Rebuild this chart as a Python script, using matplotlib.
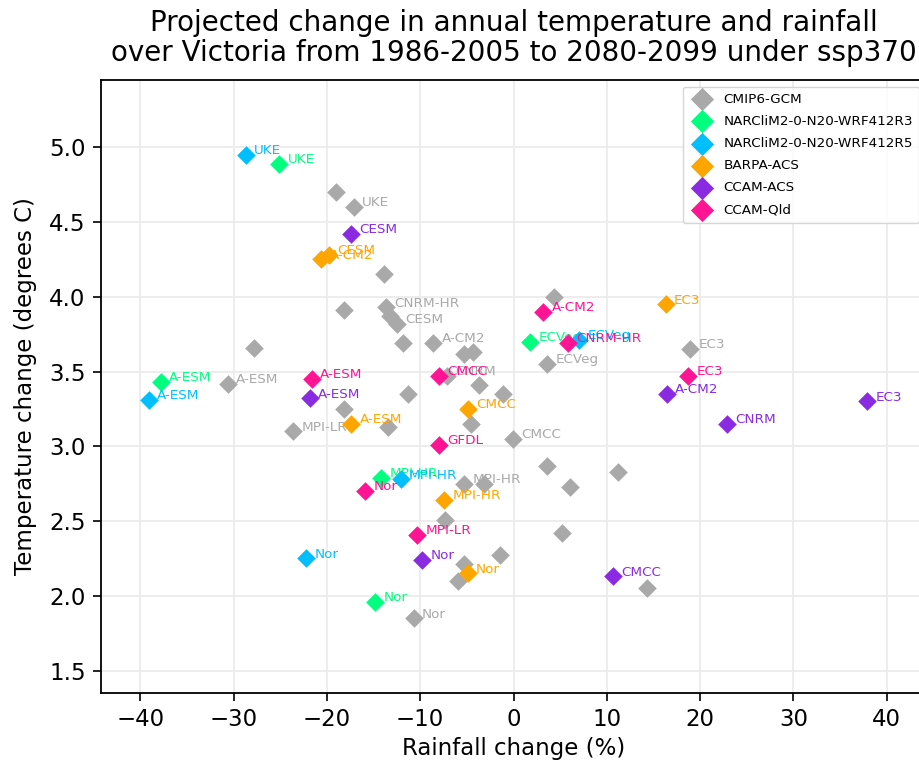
import matplotlib.pyplot as plt

# --- data (rainfall change %, temperature change degC) ---
gcm_x = [-19.0, -17.1, -13.9, -18.2, -13.7, -13.2, -12.5, -11.8, -8.6, -27.8,
         -30.6, -5.3, -4.3, -3.7, -1.1, -11.3, -4.6, -0.1, 3.6, 4.3,
         -13.5, -18.2, -23.6, 18.9, -5.3, -3.2, -7.3, -1.4, -5.3, -5.9,
         -10.7, 3.6, 11.2, 6.1, 5.2, 14.3, -7.1]
gcm_y = [4.70, 4.60, 4.15, 3.91, 3.93, 3.87, 3.82, 3.69, 3.69, 3.66,
         3.42, 3.62, 3.63, 3.41, 3.35, 3.35, 3.15, 3.05, 3.55, 4.00,
         3.13, 3.25, 3.10, 3.65, 2.75, 2.75, 2.51, 2.27, 2.21, 2.10,
         1.85, 2.87, 2.83, 2.73, 2.42, 2.05, 3.47]
gcm_lab = ["", "UKE", "", "", "CNRM-HR", "", "CESM", "", "A-CM2", "",
           "A-ESM", "", "", "", "", "", "", "CMCC", "ECVeg", "",
           "", "", "MPI-LR", "EC3", "MPI-HR", "", "", "", "", "",
           "Nor", "", "", "", "", "", "CNRM"]

r3_x = [-25.1, -37.8, 1.8, -14.2, -14.8]
r3_y = [4.89, 3.43, 3.70, 2.79, 1.96]
r3_lab = ["UKE", "A-ESM", "ECVeg", "MPI-HR", "Nor"]

r5_x = [-28.7, -39.1, 7.0, -12.1, -22.2]
r5_y = [4.95, 3.31, 3.71, 2.78, 2.25]
r5_lab = ["UKE", "A-ESM", "ECVeg", "MPI-HR", "Nor"]

barpa_x = [-20.6, -19.8, 16.3, -4.9, -17.4, -7.4, -4.9]
barpa_y = [4.25, 4.28, 3.95, 3.25, 3.15, 2.64, 2.15]
barpa_lab = ["A-CM2", "CESM", "EC3", "CMCC", "A-ESM", "MPI-HR", "Nor"]

ccam_acs_x = [-17.4, -21.8, 16.4, 22.9, 37.9, -9.8, 10.7]
ccam_acs_y = [4.42, 3.32, 3.35, 3.15, 3.30, 2.24, 2.13]
ccam_acs_lab = ["CESM", "A-ESM", "A-CM2", "CNRM", "EC3", "Nor", "CMCC"]

ccam_qld_x = [3.2, 5.8, 18.7, -21.6, -8.0, -8.0, -15.9, -10.3]
ccam_qld_y = [3.90, 3.69, 3.47, 3.45, 3.47, 3.01, 2.70, 2.41]
ccam_qld_lab = ["A-CM2", "CNRM-HR", "EC3", "A-ESM", "CMCC", "GFDL", "Nor", "MPI-LR"]

groups = [
    ("CMIP6-GCM", gcm_x, gcm_y, gcm_lab, "darkgray"),
    ("NARCliM2-0-N20-WRF412R3", r3_x, r3_y, r3_lab, "springgreen"),
    ("NARCliM2-0-N20-WRF412R5", r5_x, r5_y, r5_lab, "deepskyblue"),
    ("BARPA-ACS", barpa_x, barpa_y, barpa_lab, "orange"),
    ("CCAM-ACS", ccam_acs_x, ccam_acs_y, ccam_acs_lab, "blueviolet"),
    ("CCAM-Qld", ccam_qld_x, ccam_qld_y, ccam_qld_lab, "deeppink"),
]

fig = plt.figure(figsize=(9.19, 7.65), dpi=100)
# axes run slightly past the right edge, like the cropped original
ax = fig.add_axes([101 / 919, 1 - 693 / 765, 825 / 919, (693 - 80) / 765])

for i, (name, xs, ys, labs, col) in enumerate(groups):
    ax.scatter(xs, ys, marker="D", s=90, color=col, label=name,
               linewidths=0, zorder=2 + 2 * i)
    for x, y, lab in zip(xs, ys, labs):
        if lab:
            ax.annotate(lab, (x, y), xytext=(6, 3), textcoords="offset points",
                        color=col, fontsize=9.7, va="center", ha="left",
                        zorder=3 + 2 * i)

ax.set_xlim(-44.2, 44.2)
ax.set_ylim(1.35, 5.45)
ax.set_xticks([-40, -30, -20, -10, 0, 10, 20, 30, 40])
ax.set_yticks([1.5, 2.0, 2.5, 3.0, 3.5, 4.0, 4.5, 5.0])
ax.grid(True, color="#ececec", linewidth=1.3, zorder=0)
ax.set_axisbelow(True)
ax.tick_params(labelsize=16.5, length=6, width=1.2, pad=5)
for sp in ax.spines.values():
    sp.set_linewidth(1.3)

ax.set_xlabel("Rainfall change (%)", fontsize=16.5, labelpad=4)
ax.set_ylabel("Temperature change (degrees C)", fontsize=16.5, labelpad=9)
ax.set_title("Projected change in annual temperature and rainfall\n"
             "over Victoria from 1986-2005 to 2080-2099 under ssp370",
             fontsize=20, pad=14, linespacing=1.05)

ax.legend(loc="upper right", fontsize=9.7, markerscale=1.25, scatterpoints=1,
          handletextpad=0.6, labelspacing=0.68, borderaxespad=0.5,
          borderpad=0.45)

fig.savefig("out.png", dpi=100)
